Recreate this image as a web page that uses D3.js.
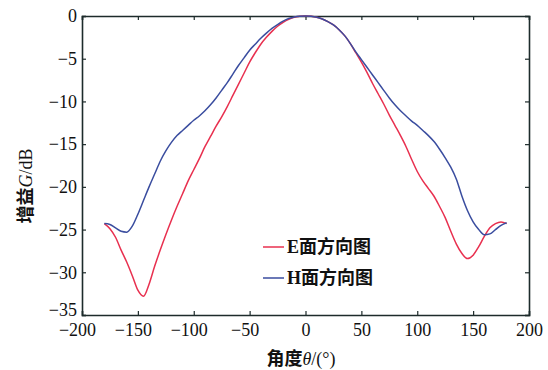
<!DOCTYPE html>
<html lang="zh">
<head>
<meta charset="utf-8">
<script src="https://d3js.org/d3.v7.min.js"></script>
<style>
  body { margin: 0; background: #fff; }
</style>
</head>
<body>
<script>
// angle (deg) and gain (dB)
const angles = [-180,-175,-170,-165,-160,-155,-150,-145,-140,-135,-130,-125,-120,-115,-110,-105,-100,-95,-90,-85,-80,-75,-70,-65,-60,-55,-50,-45,-40,-35,-30,-25,-20,-15,-10,-5,
  0,5,10,15,20,25,30,35,40,45,50,55,60,65,70,75,80,85,90,95,100,105,110,115,120,125,130,135,140,145,150,155,160,165,170,175,180];
const eGain = [-24.3,-24.9,-25.9,-27.4,-28.8,-30.4,-32.1,-32.8,-31.4,-29.3,-27.4,-25.6,-23.9,-22.3,-20.8,-19.3,-18.0,-16.7,-15.3,-14.1,-12.9,-11.8,-10.6,-9.3,-8.0,-6.7,-5.4,-4.3,-3.3,-2.5,-1.8,-1.2,-0.75,-0.4,-0.15,-0.04,
  0,-0.04,-0.15,-0.35,-0.65,-1.05,-1.6,-2.3,-3.2,-4.3,-5.4,-6.6,-7.9,-9.1,-10.3,-11.6,-12.8,-14.0,-15.3,-16.8,-18.2,-19.3,-20.2,-21.1,-22.3,-23.6,-25.2,-26.7,-27.8,-28.4,-28.0,-27.0,-25.8,-24.8,-24.3,-24.1,-24.3];
const hGain = [-24.3,-24.4,-24.8,-25.2,-25.3,-24.6,-23.2,-21.6,-20.0,-18.5,-17.0,-15.8,-14.8,-14.0,-13.4,-12.8,-12.2,-11.7,-11.1,-10.4,-9.6,-8.7,-7.8,-6.8,-5.8,-4.9,-4.0,-3.3,-2.6,-2.0,-1.45,-1.0,-0.6,-0.3,-0.12,-0.03,
  0,-0.04,-0.15,-0.35,-0.65,-1.05,-1.6,-2.3,-3.2,-4.2,-5.1,-6.0,-6.9,-7.8,-8.7,-9.6,-10.4,-11.1,-11.7,-12.3,-12.8,-13.4,-14.0,-14.7,-15.6,-16.6,-17.7,-19.1,-21.1,-22.8,-24.1,-25.0,-25.6,-25.5,-25.0,-24.5,-24.2];
const xTicks = [-200,-150,-100,-50,0,50,100,150,200];
const yTicks = [0,-5,-10,-15,-20,-25,-30,-35];
const seriesNames = ["E面方向图", "H面方向图"];
const seriesColors = ["#e8304f", "#3a4d9f"];

const serif = "'Liberation Serif', 'DejaVu Serif', serif";
const cnFont = "'Liberation Serif', 'Noto Sans CJK SC', serif";

const width = 548, height = 370;
const margin = {left: 82, right: 19, top: 16, bottom: 55};

const svg = d3.select("body").append("svg")
    .attr("width", width)
    .attr("height", height);

const x = d3.scaleLinear().domain([-200, 200]).range([margin.left, width - margin.right]);
const y = d3.scaleLinear().domain([-35, 0]).range([height - margin.bottom, margin.top]);

const fmt = d => d < 0 ? "\u2212" + Math.abs(d) : String(d);

// axes, ticks pointing inward
const bottom = svg.append("g")
    .attr("transform", "translate(0," + y(-35) + ")")
    .call(d3.axisBottom(x).tickValues(xTicks).tickSize(-4).tickPadding(8).tickFormat(fmt));
bottom.selectAll("text").attr("dx", d => d < 0 ? -5 : 0);

const left = svg.append("g")
    .attr("transform", "translate(" + x(-200) + ",0)")
    .call(d3.axisLeft(y).tickValues(yTicks).tickSize(-4).tickPadding(8).tickFormat(fmt));
// lowest label sits a little higher, clear of the x labels
left.selectAll("text").attr("dx", 3).attr("y", d => d === -35 ? -5 : 0);

svg.append("g")
    .attr("transform", "translate(0," + y(0) + ")")
    .call(d3.axisTop(x).tickValues(xTicks).tickSize(-4).tickFormat(""));
svg.append("g")
    .attr("transform", "translate(" + x(200) + ",0)")
    .call(d3.axisRight(y).tickValues(yTicks).tickSize(-4).tickFormat(""));

svg.selectAll(".domain").attr("stroke", "#1d2b2b").attr("stroke-width", 1.6);
svg.selectAll(".tick line").attr("stroke", "#1d2b2b").attr("stroke-width", 1.2);
svg.selectAll(".tick text")
    .attr("fill", "#111")
    .style("font-family", serif)
    .style("font-size", "18px");

// curves
const line = d3.line()
    .x((d, i) => x(angles[i]))
    .y(d => y(d))
    .curve(d3.curveMonotoneX);

[eGain, hGain].forEach((g, k) => {
  svg.append("path")
      .datum(g)
      .attr("fill", "none")
      .attr("stroke", seriesColors[k])
      .attr("stroke-width", 1.5)
      .attr("d", line);
});

// legend
seriesNames.forEach((name, k) => {
  const ly = 247 + k * 31;
  svg.append("line")
      .attr("x1", 263).attr("x2", 284)
      .attr("y1", ly).attr("y2", ly)
      .attr("stroke", seriesColors[k]).attr("stroke-width", 1.5);
  svg.append("text")
      .attr("x", 287).attr("y", ly + 6)
      .attr("fill", "#111")
      .style("font-family", cnFont).style("font-size", "18px").style("font-weight", "bold")
      .text(name);
});

// axis titles
const xt = svg.append("text")
    .attr("x", 301).attr("y", 365)
    .attr("text-anchor", "middle")
    .attr("fill", "#111")
    .style("font-family", cnFont).style("font-size", "18px").style("font-weight", "bold");
xt.append("tspan").text("角度");
xt.append("tspan").style("font-style", "italic").style("font-weight", "normal").text("θ");
xt.append("tspan").style("font-weight", "normal").text("/(°)");

const yt = svg.append("text")
    .attr("transform", "translate(32,186) rotate(-90)")
    .attr("text-anchor", "middle")
    .attr("fill", "#111")
    .style("font-family", cnFont).style("font-size", "18px").style("font-weight", "bold");
yt.append("tspan").text("增益");
yt.append("tspan").style("font-style", "italic").style("font-weight", "normal").text("G");
yt.append("tspan").style("font-weight", "normal").text("/dB");
</script>
</body>
</html>
